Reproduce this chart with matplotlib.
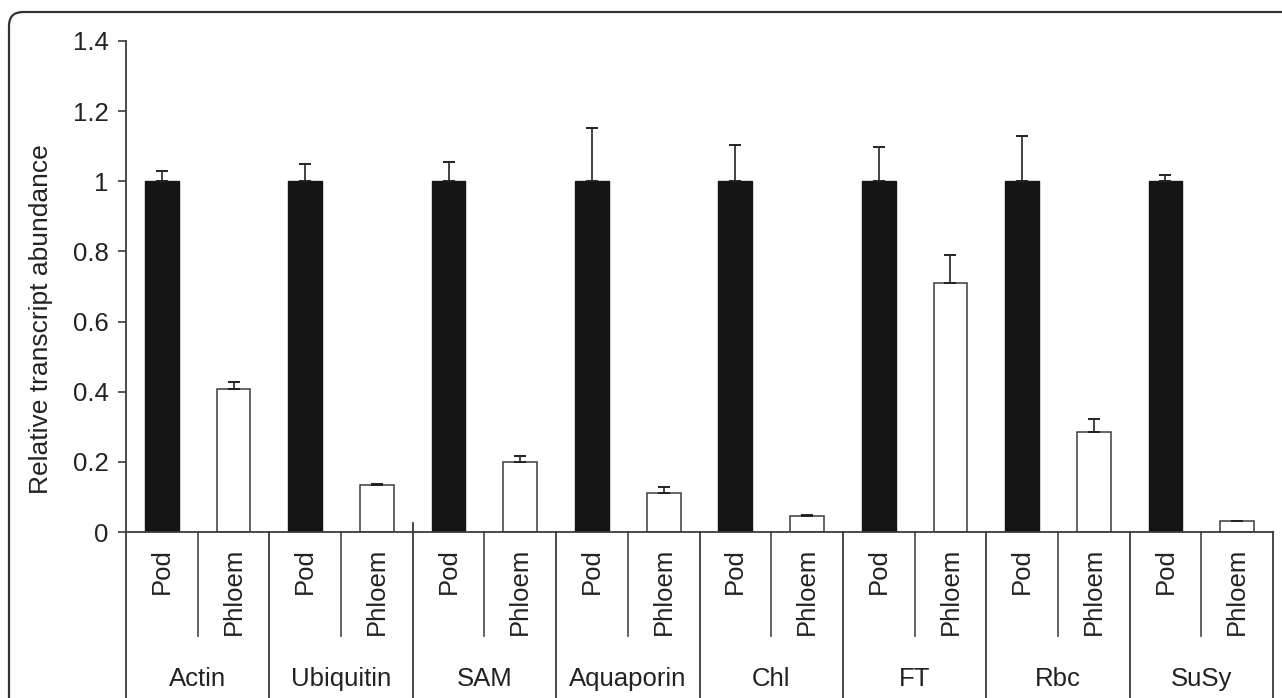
import numpy as np
import matplotlib
matplotlib.use("Agg")
import matplotlib.pyplot as plt
from matplotlib.patches import FancyBboxPatch
from matplotlib.ticker import FuncFormatter

genes = ["Actin", "Ubiquitin", "SAM", "Aquaporin", "Chl", "FT", "Rbc", "SuSy"]
tissues = ["Pod", "Phloem"]
pod = [1.0, 1.0, 1.0, 1.0, 1.0, 1.0, 1.0, 1.0]
pod_err = [0.029, 0.049, 0.055, 0.152, 0.103, 0.098, 0.129, 0.018]
phloem = [0.408, 0.134, 0.200, 0.111, 0.046, 0.710, 0.285, 0.030]
phloem_err = [0.020, 0.003, 0.017, 0.017, 0.002, 0.080, 0.037, 0.002]
yticks = [0, 0.2, 0.4, 0.6, 0.8, 1.0, 1.2, 1.4]

plt.rcParams['font.family'] = ['Liberation Sans', 'DejaVu Sans']
FS = 18.5
INK = '#222222'
LINE = '#3a3a3a'


def draw_chart():
    fig = plt.figure(figsize=(12.82, 6.98), dpi=100)
    ax = fig.add_axes([126 / 1282, 166 / 698, 1147 / 1282, 491 / 698])

    n = len(genes)
    x_pod = np.arange(n) * 2
    x_phl = x_pod + 1
    w = 0.47

    ax.bar(x_pod, pod, width=w, color='#151515', edgecolor='#151515', zorder=2)
    ax.bar(x_phl, phloem, width=w, color='white', edgecolor=LINE,
           linewidth=1.1, zorder=2)
    ax.errorbar(x_pod, pod, yerr=[np.zeros(n), pod_err], fmt='none',
                ecolor=INK, elinewidth=1.2, capsize=4.3, capthick=1.4, zorder=3)
    ax.errorbar(x_phl, phloem, yerr=[np.zeros(n), phloem_err], fmt='none',
                ecolor=INK, elinewidth=1.2, capsize=4.3, capthick=1.4, zorder=3)

    ax.set_xlim(-0.5, 2 * n - 0.5)
    ax.set_ylim(0, 1.4)
    ax.set_yticks(yticks)
    ax.yaxis.set_major_formatter(FuncFormatter(lambda v, p: "{:g}".format(round(v, 1))))
    ax.tick_params(axis='y', labelsize=FS, colors=LINE, labelcolor=INK,
                   length=6, width=1.2, pad=6.5)
    ax.set_xticks([])
    for s in ['top', 'right']:
        ax.spines[s].set_visible(False)
    for s in ['left', 'bottom']:
        ax.spines[s].set_color(LINE)
        ax.spines[s].set_linewidth(1.3)

    # category table under the axis
    px = 1.4 / 491  # data units per pixel
    for i in range(n + 1):
        xs = 2 * i - 0.5
        top = 9 * px if i == 2 else 0
        ax.plot([xs, xs], [top, -0.6], color=LINE, lw=1.3,
                clip_on=False, zorder=1)
    for i in range(n):
        xm = 2 * i + 0.5
        ax.plot([xm, xm], [0, -104 * px], color='#555555', lw=1.3,
                clip_on=False, zorder=1)
        for j, t in enumerate(tissues):
            ax.text(2 * i + j, -16 * px, t, rotation=90, ha='center',
                    va='top', fontsize=FS, color=INK, clip_on=False)
        ax.text(2 * i + 0.5, -147 * px, genes[i], ha='center', va='center',
                fontsize=FS, color=INK, clip_on=False)

    fig.text(41 / 1282, 1 - 319 / 698, "Relative transcript abundance",
             rotation=90, ha='center', va='center', fontsize=19, color=INK)

    frame = FancyBboxPatch((9, -40), 1320, 726,
                           boxstyle="round,pad=0,rounding_size=14",
                           transform=None, fill=False, edgecolor='#333333',
                           linewidth=1.6)
    fig.patches.append(frame)

    fig.savefig("out.png", dpi=100)


if __name__ == '__main__':
    draw_chart()
